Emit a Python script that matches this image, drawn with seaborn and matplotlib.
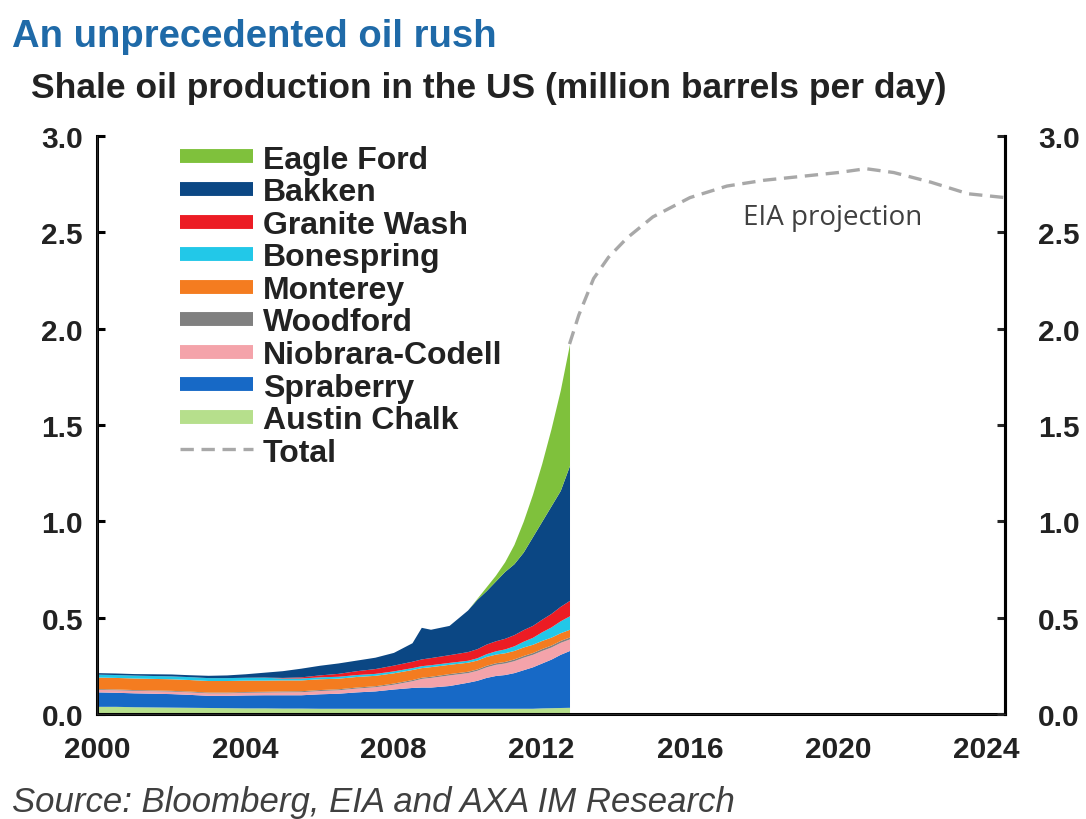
import numpy as np
import pandas as pd
import matplotlib
matplotlib.use("Agg")
import matplotlib.pyplot as plt
import seaborn as sns
from matplotlib.lines import Line2D

# ---------------- data (million barrels per day) ----------------
years = [2000, 2000.5, 2001, 2001.5, 2002, 2002.5, 2003, 2003.5, 2004, 2004.5,
         2005, 2005.5, 2006, 2006.5, 2007, 2007.5, 2008, 2008.5, 2008.75, 2009,
         2009.5, 2010, 2010.25, 2010.5, 2010.75, 2011, 2011.25, 2011.5, 2011.75,
         2012, 2012.25, 2012.5, 2012.75]

austin_chalk = [0.040, 0.040, 0.038, 0.037, 0.036, 0.035, 0.034, 0.033, 0.032, 0.032,
                0.031, 0.031, 0.030, 0.030, 0.030, 0.030, 0.030, 0.030, 0.030, 0.030,
                0.030, 0.030, 0.030, 0.030, 0.030, 0.030, 0.030, 0.030, 0.030,
                0.032, 0.033, 0.034, 0.035]
spraberry = [0.075, 0.073, 0.072, 0.071, 0.070, 0.067, 0.063, 0.064, 0.067, 0.068,
             0.069, 0.069, 0.075, 0.078, 0.085, 0.090, 0.100, 0.108, 0.110, 0.110,
             0.118, 0.135, 0.145, 0.160, 0.170, 0.175, 0.185, 0.200, 0.215,
             0.233, 0.252, 0.276, 0.295]
niobrara = [0.013, 0.013, 0.013, 0.013, 0.013, 0.013, 0.013, 0.013, 0.014, 0.014,
            0.015, 0.016, 0.017, 0.018, 0.020, 0.022, 0.025, 0.035, 0.045, 0.050,
            0.055, 0.050, 0.052, 0.055, 0.058, 0.060, 0.062, 0.065, 0.065,
            0.065, 0.063, 0.062, 0.060]
woodford = [0.004, 0.004, 0.004, 0.004, 0.004, 0.004, 0.004, 0.004, 0.004, 0.004,
            0.005, 0.005, 0.005, 0.005, 0.005, 0.005, 0.006, 0.006, 0.006, 0.006,
            0.007, 0.007, 0.007, 0.008, 0.008, 0.008, 0.009, 0.009, 0.009,
            0.010, 0.010, 0.010, 0.010]
monterey = [0.060, 0.060, 0.060, 0.060, 0.060, 0.060, 0.060, 0.060, 0.059, 0.058,
            0.057, 0.056, 0.056, 0.055, 0.055, 0.054, 0.053, 0.052, 0.050, 0.050,
            0.048, 0.047, 0.046, 0.046, 0.045, 0.045, 0.044, 0.044, 0.043,
            0.042, 0.041, 0.040, 0.040]
bonespring = [0.015, 0.015, 0.015, 0.015, 0.015, 0.015, 0.015, 0.015, 0.015, 0.015,
              0.010, 0.010, 0.010, 0.010, 0.010, 0.010, 0.010, 0.010, 0.010, 0.010,
              0.010, 0.010, 0.012, 0.014, 0.017, 0.020, 0.024, 0.030, 0.036,
              0.045, 0.053, 0.062, 0.070]
granite_wash = [0.000, 0.000, 0.000, 0.000, 0.000, 0.000, 0.000, 0.000, 0.000, 0.001,
                0.003, 0.006, 0.010, 0.015, 0.020, 0.025, 0.030, 0.033, 0.035, 0.037,
                0.040, 0.045, 0.047, 0.050, 0.052, 0.055, 0.058, 0.060, 0.062,
                0.065, 0.070, 0.075, 0.080]
bakken = [0.008, 0.008, 0.008, 0.009, 0.010, 0.010, 0.012, 0.014, 0.018, 0.025,
          0.035, 0.045, 0.050, 0.054, 0.055, 0.059, 0.066, 0.096, 0.164, 0.147,
          0.152, 0.216, 0.256, 0.277, 0.310, 0.347, 0.368, 0.402, 0.460,
          0.508, 0.558, 0.601, 0.700]
eagle_ford = [0, 0, 0, 0, 0, 0, 0, 0, 0, 0,
              0, 0, 0, 0, 0, 0, 0, 0, 0, 0,
              0, 0, 0.005, 0.020, 0.030, 0.050, 0.100, 0.160, 0.220,
              0.300, 0.400, 0.520, 0.630]

proj_years = [2012.75, 2013, 2013.4, 2013.8, 2014.3, 2015, 2016, 2017, 2018, 2019,
              2020, 2020.75, 2021.5, 2022.5, 2023.5, 2024.5]
proj_total = [1.92, 2.07, 2.26, 2.37, 2.47, 2.58, 2.68, 2.74, 2.77, 2.79,
              2.81, 2.83, 2.81, 2.76, 2.70, 2.68]

series_names = ["Austin Chalk", "Spraberry", "Niobrara-Codell", "Woodford",
                "Monterey", "Bonespring", "Granite Wash", "Bakken", "Eagle Ford"]
series_colors = ["#b6df8c", "#1769c6", "#f4a3aa", "#808080",
                 "#f47c20", "#22c8e8", "#ec1c24", "#0b4784", "#7fc13c"]

y_ticks = [0.0, 0.5, 1.0, 1.5, 2.0, 2.5, 3.0]
x_ticks = [2000, 2004, 2008, 2012, 2016, 2020, 2024]

# ---------------- style ----------------
sns.set_style("white")
plt.rcParams['font.family'] = ['Liberation Sans', 'DejaVu Sans']

fig = plt.figure(figsize=(10.86, 8.2), dpi=100)
ax = fig.add_axes([0.0893, 0.128, 0.8361, 0.705])

ax.stackplot(years, austin_chalk, spraberry, niobrara, woodford, monterey,
             bonespring, granite_wash, bakken, eagle_ford,
             colors=series_colors, linewidth=0)

proj_df = pd.DataFrame({"year": proj_years, "total": proj_total})
sns.lineplot(data=proj_df, x="year", y="total", ax=ax, color="#a8a8a8",
             linewidth=2.4, linestyle=(0, (4, 2.3)), legend=False)

ax.set_xlim(2000, 2024.5)
ax.set_ylim(0, 3.0)
ax.set_xticks(x_ticks)
ax.set_xticklabels([str(x) for x in x_ticks])
ax.set_yticks(y_ticks)
ax.set_yticklabels([f"{v:.1f}" for v in y_ticks])
ax.set_xlabel("")
ax.set_ylabel("")

for side in ["left", "bottom", "right"]:
    ax.spines[side].set_visible(True)
    ax.spines[side].set_color("black")
    ax.spines[side].set_linewidth(2.2)
ax.spines["top"].set_visible(False)

ax.tick_params(axis="both", which="both", direction="in", length=6, width=2.2,
               labelsize=21.5, colors="black", pad=10)
ax.tick_params(axis="x", pad=15)
for lab in ax.get_xticklabels() + ax.get_yticklabels():
    lab.set_fontweight("bold")
    lab.set_color("#222222")

ax2 = ax.twinx()
ax2.set_ylim(0, 3.0)
ax2.set_yticks(y_ticks)
ax2.set_yticklabels([f"{v:.1f}" for v in y_ticks])
ax2.spines["top"].set_visible(False)
ax2.spines["right"].set_linewidth(2.2)
ax2.spines["right"].set_color("black")
ax2.tick_params(axis="y", direction="in", length=6, width=2.2, labelsize=21.5,
                pad=24)
for lab in ax2.get_yticklabels():
    lab.set_fontweight("bold")
    lab.set_color("#222222")

# EIA projection annotation
ax.text(2019.85, 2.58, "EIA projection", fontsize=20, color="#404040",
        family=["Open Sans", "DejaVu Sans"], ha="center", va="center")

# legend
handles = []
labels = []
for name, col in zip(series_names[::-1], series_colors[::-1]):
    handles.append(Line2D([0], [0], color=col, linewidth=10, solid_capstyle="butt"))
    labels.append(name)
handles.append(Line2D([0], [0], color="#a8a8a8", linewidth=2.4,
                      linestyle=(0, (4, 2.3))))
labels.append("Total")
leg = ax.legend(handles, labels, loc="upper left", bbox_to_anchor=(0.0914, 0.985),
                frameon=False, fontsize=23, handlelength=2.3, handletextpad=0.3,
                labelspacing=0.08, borderpad=0, borderaxespad=0)
for t in leg.get_texts():
    t.set_fontweight("bold")
    t.set_color("#222222")

# titles
fig.text(0.011, 0.955, "An unprecedented oil rush", fontsize=27.5, fontweight="bold",
         color="#1f6aa8", ha="left", va="center")
fig.text(0.029, 0.892, "Shale oil production in the US (million barrels per day)",
         fontsize=25.5, fontweight="bold", color="#222222", ha="left", va="center")
fig.text(0.011, 0.021, "Source: Bloomberg, EIA and AXA IM Research", fontsize=25,
         style="italic", color="#404040", ha="left", va="center")

fig.savefig("out.png", dpi=100)
